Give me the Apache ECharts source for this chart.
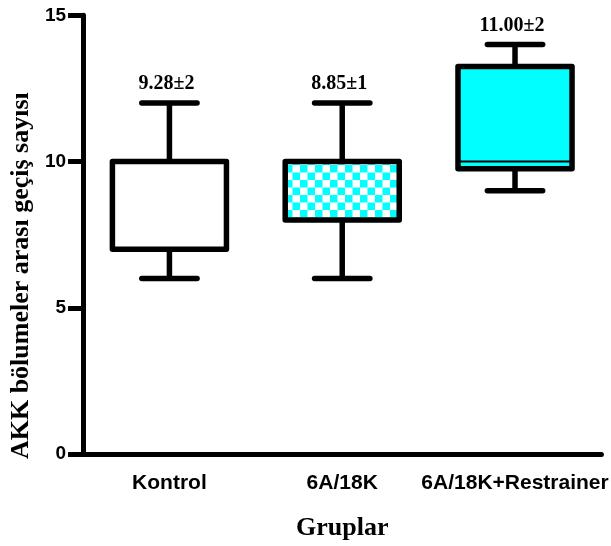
<!DOCTYPE html>
<html>
<head>
<meta charset="utf-8">
<script src="https://cdn.jsdelivr.net/npm/echarts@6/dist/echarts.min.js"></script>
<style>
  html, body { margin: 0; padding: 0; background: #fff; }
  #chart { width: 611px; height: 546px; }
</style>
</head>
<body>
<div id="chart"></div>
<script>
// veriler
var categories = ['Kontrol', '6A/18K', '6A/18K+Restrainer'];
var mins = [6, 6, 9];
var q1s = [7, 8, 9.75];
var medians = [10, 10, 10];
var q3s = [10, 10, 13.25];
var maxs = [12, 12, 14];
var meanLabels = ['9.28±2', '8.85±1', '11.00±2'];
var yTicks = [0, 5, 10, 15];

// kareli desen (6A/18K kutusu)
var checker = document.createElement('canvas');
checker.width = 15;
checker.height = 15;
var cx = checker.getContext('2d');
cx.fillStyle = '#ffffff';
cx.fillRect(0, 0, 15, 15);
cx.fillStyle = '#00ffff';
cx.fillRect(0, 0, 7.5, 7.5);
cx.fillRect(7.5, 7.5, 7.5, 7.5);

var boxFills = ['#ffffff', { image: checker, repeat: 'repeat' }, '#00ffff'];

var boxData = categories.map(function (c, i) {
    return [i, mins[i], q1s[i], medians[i], q3s[i], maxs[i]];
});

var chart = echarts.init(document.getElementById('chart'));
var option = {
    animation: false,
    backgroundColor: '#ffffff',
    grid: { left: 81.5, right: 7, top: 15.3, bottom: 91.5 },
    xAxis: {
        type: 'category',
        data: categories,
        name: 'Gruplar',
        nameLocation: 'middle',
        nameGap: 61,
        nameTextStyle: { fontFamily: '"Liberation Serif"', fontWeight: 'bold', fontSize: 26, color: '#000' },
        axisLine: { lineStyle: { color: '#000', width: 5 } },
        axisTick: { alignWithLabel: true, length: 14, lineStyle: { color: '#000', width: 5 } },
        axisLabel: { interval: 0, hideOverlap: false, margin: 19, fontFamily: '"Liberation Sans"', fontWeight: 'bold', fontSize: 21, color: '#000' },
        splitLine: { show: false }
    },
    yAxis: {
        type: 'value',
        min: yTicks[0],
        max: yTicks[yTicks.length - 1],
        interval: 5,
        name: 'AKK bölumeler arası geçiş sayısı',
        nameLocation: 'middle',
        nameGap: 44,
        nameTextStyle: { fontFamily: '"Liberation Serif"', fontWeight: 'bold', fontSize: 26, color: '#000', padding: [0, 82, 0, 0] },
        axisLine: { show: true, lineStyle: { color: '#000', width: 5 } },
        axisTick: { show: true, length: 15, lineStyle: { color: '#000', width: 5 } },
        axisLabel: { margin: 17, fontFamily: '"Liberation Sans"', fontWeight: 'bold', fontSize: 19, color: '#000' },
        splitLine: { show: false }
    },
    series: [{
        type: 'custom',
        data: boxData,
        encode: { x: 0, y: [1, 2, 3, 4, 5] },
        renderItem: function (params, api) {
            var i = api.value(0);
            var pMax = api.coord([i, api.value(5)]);
            var pQ3 = api.coord([i, api.value(4)]);
            var pMed = api.coord([i, api.value(3)]);
            var pQ1 = api.coord([i, api.value(2)]);
            var pMin = api.coord([i, api.value(1)]);
            var band = api.size([1, 0])[0];
            var bw = band * 0.66;
            var cw = band * 0.32;
            var x = pMax[0];
            var ln = { stroke: '#000', lineWidth: 5.5 };
            var capStyle = { stroke: '#000', lineWidth: 5.5, lineCap: 'round' };
            return {
                type: 'group',
                children: [
                    { type: 'line', shape: { x1: x, y1: pMax[1], x2: x, y2: pQ3[1] }, style: ln },
                    { type: 'line', shape: { x1: x, y1: pQ1[1], x2: x, y2: pMin[1] }, style: ln },
                    { type: 'line', shape: { x1: x - cw / 2, y1: pMax[1], x2: x + cw / 2, y2: pMax[1] }, style: capStyle },
                    { type: 'line', shape: { x1: x - cw / 2, y1: pMin[1], x2: x + cw / 2, y2: pMin[1] }, style: capStyle },
                    {
                        type: 'rect',
                        shape: { x: x - bw / 2, y: pQ3[1], width: bw, height: pQ1[1] - pQ3[1] },
                        style: { fill: boxFills[i], stroke: '#000', lineWidth: 5.5, lineJoin: 'round' }
                    },
                    { type: 'line', shape: { x1: x - bw / 2, y1: pMed[1], x2: x + bw / 2, y2: pMed[1] }, style: { stroke: '#000', lineWidth: 2 } },
                    {
                        type: 'text',
                        x: x - 3,
                        y: pMax[1] - 19,
                        style: {
                            text: meanLabels[i],
                            font: 'bold 20px "Liberation Serif"',
                            fill: '#000',
                            align: 'center',
                            verticalAlign: 'middle'
                        }
                    }
                ]
            };
        }
    }]
};
chart.setOption(option);
</script>
</body>
</html>
